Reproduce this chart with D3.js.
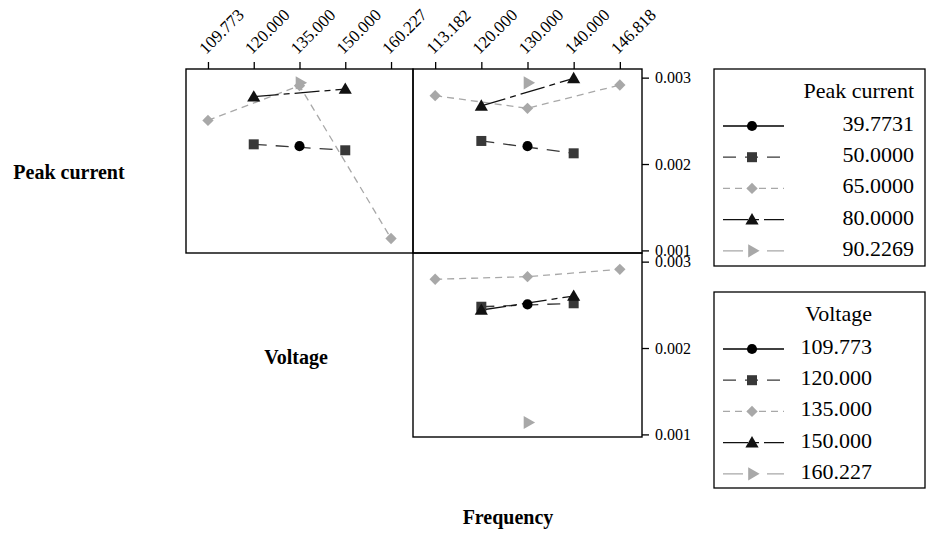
<!DOCTYPE html>
<html>
<head>
<meta charset="utf-8">
<script src="https://cdn.jsdelivr.net/npm/d3@7"></script>
<style>
  html, body { margin: 0; padding: 0; background: #fff; }
  svg { display: block; font-family: "Liberation Serif", "Times New Roman", serif; }
  text { font-family: "Liberation Serif", "Times New Roman", serif; fill: #000; }
</style>
</head>
<body>
<svg id="chart" width="929" height="558"></svg>
<script>
// Factor levels (treated as categories on the x axes)
const voltageLevels = ["109.773", "120.000", "135.000", "150.000", "160.227"];
const frequencyLevels = ["113.182", "120.000", "130.000", "140.000", "146.818"];
const peakLevels = ["39.7731", "50.0000", "65.0000", "80.0000", "90.2269"];
const voltageLegend = ["109.773", "120.000", "135.000", "150.000", "160.227"];

// Mean response, row "Peak current" vs Voltage (one array per Peak current level)
const peakVsVoltage39 = [null, null, 0.002207, null, null];
const peakVsVoltage50 = [null, 0.002228, null, 0.002159, null];
const peakVsVoltage65 = [0.002505, null, 0.002907, null, 0.001138];
const peakVsVoltage80 = [null, 0.002779, null, 0.002868, null];
const peakVsVoltage90 = [null, null, 0.002940, null, null];

// Mean response, row "Peak current" vs Frequency
const peakVsFreq39 = [null, null, 0.002207, null, null];
const peakVsFreq50 = [null, 0.002267, null, 0.002124, null];
const peakVsFreq65 = [0.002791, null, 0.002645, null, 0.002915];
const peakVsFreq80 = [null, 0.002672, null, 0.002992, null];
const peakVsFreq90 = [null, null, 0.002940, null, null];

// Mean response, row "Voltage" vs Frequency (one array per Voltage level)
const voltVsFreq109 = [null, null, 0.002505, null, null];
const voltVsFreq120 = [null, 0.002478, null, 0.002518, null];
const voltVsFreq135 = [0.002796, null, 0.002826, null, 0.002911];
const voltVsFreq150 = [null, 0.002440, null, 0.002602, null];
const voltVsFreq160 = [null, null, 0.001138, null, null];

// Right-hand response axis
const yTickValues = [0.001, 0.002, 0.003];
const yTickLabels = ["0.001", "0.002", "0.003"];

// Line / symbol styles for the five levels of each factor
const styles = [
  { color: "#000000", dash: null,          symbol: "circle" },
  { color: "#383838", dash: "13,9",        symbol: "square" },
  { color: "#a8a8a8", dash: "7,5",         symbol: "diamond" },
  { color: "#111111", dash: "25,5,6,5",    symbol: "triangle" },
  { color: "#a8a8a8", dash: "20,24",       symbol: "triangleRight" }
];

const svg = d3.select("#chart");

const cols = [{ x0: 186, x1: 413 }, { x0: 413, x1: 642 }];
const rows = [{ y0: 69, y1: 253 }, { y0: 253, y1: 437 }];

function xScale(levels, col) {
  return d3.scalePoint().domain(levels).range([col.x0, col.x1]).padding(0.48);
}
function yScale(row) {
  return d3.scaleLinear().domain([0.00097, 0.0031]).range([row.y1, row.y0]);
}

function symbolPath(kind) {
  switch (kind) {
    case "circle": return d3.symbol(d3.symbolCircle, 80)();
    case "square": return d3.symbol(d3.symbolSquare, 100)();
    case "diamond": return d3.symbol(d3.symbolSquare, 64)();
    case "triangle": return d3.symbol(d3.symbolTriangle, 75)();
    case "triangleRight": return d3.symbol(d3.symbolTriangle, 75)();
  }
}
function drawSymbol(g, kind, x, y, color) {
  const p = g.append("path")
    .attr("d", symbolPath(kind))
    .attr("fill", color)
    .attr("stroke", "none");
  if (kind === "triangleRight") p.attr("transform", `translate(${x},${y}) rotate(90)`);
  else if (kind === "diamond") p.attr("transform", `translate(${x},${y}) rotate(45)`);
  else if (kind === "triangle") p.attr("transform", `translate(${x},${y + 1})`);
  else p.attr("transform", `translate(${x},${y})`);
}

function drawPanel(col, row, levels, seriesList) {
  const x = xScale(levels, col);
  const y = yScale(row);
  const g = svg.append("g");
  const line = d3.line().x(d => x(d.level)).y(d => y(d.value));
  seriesList.forEach((vals, i) => {
    const st = styles[i];
    const pts = vals.map((v, j) => ({ level: levels[j], value: v })).filter(d => d.value !== null);
    if (pts.length > 1) {
      g.append("path")
        .attr("d", line(pts))
        .attr("fill", "none")
        .attr("stroke", st.color)
        .attr("stroke-width", 1.3)
        .attr("stroke-dasharray", st.dash);
    }
  });
  seriesList.forEach((vals, i) => {
    const st = styles[i];
    vals.forEach((v, j) => {
      if (v !== null) drawSymbol(g, st.symbol, x(levels[j]), y(v), st.color);
    });
  });
  svg.append("rect")
    .attr("x", col.x0).attr("y", row.y0)
    .attr("width", col.x1 - col.x0).attr("height", row.y1 - row.y0)
    .attr("fill", "none").attr("stroke", "#000").attr("stroke-width", 1.4);
  return { x, y };
}

// Panels
const p11 = drawPanel(cols[0], rows[0], voltageLevels,
  [peakVsVoltage39, peakVsVoltage50, peakVsVoltage65, peakVsVoltage80, peakVsVoltage90]);
const p12 = drawPanel(cols[1], rows[0], frequencyLevels,
  [peakVsFreq39, peakVsFreq50, peakVsFreq65, peakVsFreq80, peakVsFreq90]);
const p22 = drawPanel(cols[1], rows[1], frequencyLevels,
  [voltVsFreq109, voltVsFreq120, voltVsFreq135, voltVsFreq150, voltVsFreq160]);

// Top category axes with slanted labels
function topAxis(scale, levels, yTop) {
  const g = svg.append("g").attr("transform", `translate(0,${yTop})`);
  g.call(d3.axisTop(scale).tickSize(7).tickSizeOuter(0).tickFormat(""));
  g.select(".domain").remove();
  g.selectAll(".tick line").attr("stroke", "#000").attr("stroke-width", 1.3);
  levels.forEach(l => {
    svg.append("text")
      .attr("transform", `translate(${scale(l) - 2},${yTop - 14}) rotate(-45)`)
      .attr("text-anchor", "start")
      .attr("font-size", 17)
      .text(l);
  });
}
topAxis(p11.x, voltageLevels, rows[0].y0);
topAxis(p12.x, frequencyLevels, rows[0].y0);

// Right response axes
function rightAxis(scale, xPos) {
  const g = svg.append("g").attr("transform", `translate(${xPos},0)`);
  g.call(d3.axisRight(scale).tickValues(yTickValues).tickSize(7)
    .tickFormat((d, i) => yTickLabels[i]));
  g.select(".domain").remove();
  g.selectAll(".tick line").attr("stroke", "#000").attr("stroke-width", 1.3);
  g.selectAll(".tick text")
    .attr("x", 13)
    .attr("font-family", "Liberation Serif, serif")
    .attr("font-size", 16)
    .attr("fill", "#000");
}
rightAxis(p12.y, cols[1].x1);
rightAxis(p22.y, cols[1].x1);

// Factor titles
svg.append("text").attr("x", 69).attr("y", 179).attr("text-anchor", "middle")
  .attr("font-size", 20).attr("font-weight", "bold").text("Peak current");
svg.append("text").attr("x", 296).attr("y", 364).attr("text-anchor", "middle")
  .attr("font-size", 20).attr("font-weight", "bold").text("Voltage");
svg.append("text").attr("x", 508).attr("y", 524).attr("text-anchor", "middle")
  .attr("font-size", 20).attr("font-weight", "bold").text("Frequency");

// Legends
function legend(top, bottom, title, labels, textRight) {
  const left = 714, right = 925;
  const g = svg.append("g");
  g.append("rect").attr("x", left).attr("y", top)
    .attr("width", right - left).attr("height", bottom - top)
    .attr("fill", "#fff").attr("stroke", "#000").attr("stroke-width", 1.3);
  g.append("text").attr("x", textRight).attr("y", top + 24)
    .attr("text-anchor", "end").attr("dominant-baseline", "middle")
    .attr("font-size", 22).text(title);
  labels.forEach((lab, i) => {
    const st = styles[i];
    const cy = top + 57 + i * 31.2;
    g.append("line").attr("x1", 723).attr("x2", 784).attr("y1", cy).attr("y2", cy)
      .attr("stroke", st.color).attr("stroke-width", 1.3)
      .attr("stroke-dasharray", st.dash);
    drawSymbol(g, st.symbol, 752, cy, st.color);
    g.append("text").attr("x", textRight).attr("y", cy)
      .attr("text-anchor", "end").attr("dominant-baseline", "middle")
      .attr("font-size", 22).text(lab);
  });
}
legend(69, 266, "Peak current", peakLevels, 914);
legend(292, 488, "Voltage", voltageLegend, 872);
</script>
</body>
</html>
